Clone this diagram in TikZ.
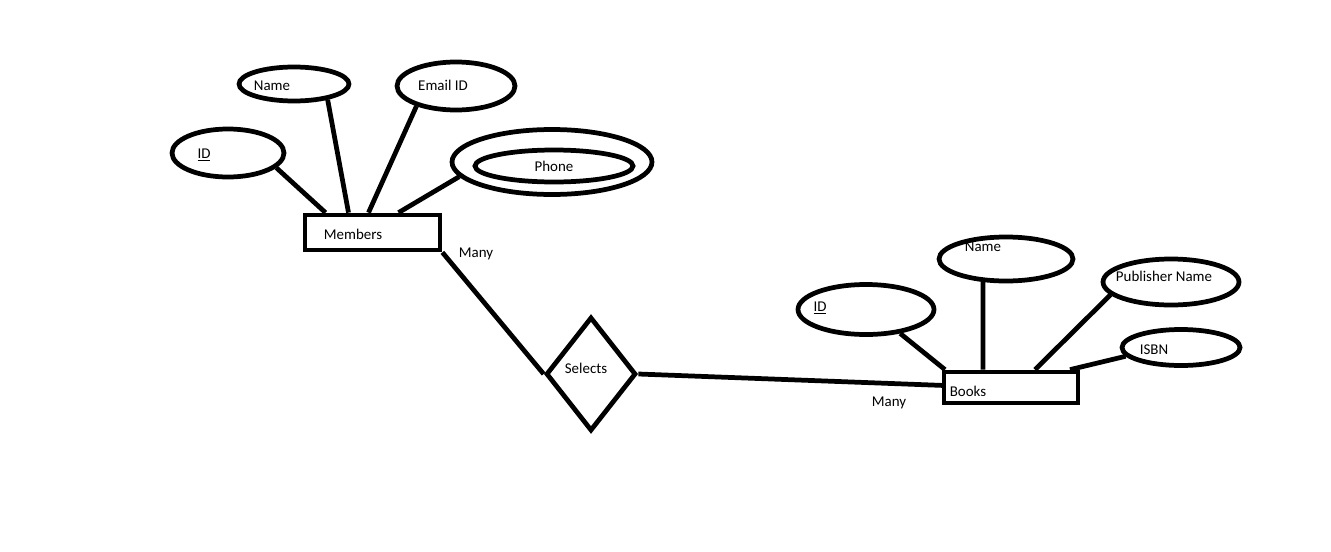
\documentclass[tikz,border=0pt]{standalone}
\usepackage{fontspec}
\setmainfont{Carlito}
\usetikzlibrary{shapes.geometric,calc}

\begin{document}
\begin{tikzpicture}[x=0.02cm,y=-0.02cm,line width=2.7pt,
  font=\fontsize{8.5}{10}\selectfont,
  attr/.style={ellipse,draw,inner sep=0pt},
  entity/.style={rectangle,draw,inner sep=0pt},
  rel/.style={diamond,draw,inner sep=0pt}]
\useasboundingbox (0,0) rectangle (1331,551);

% members side
\node [entity,minimum width=2.7cm,minimum height=0.7cm,label={[xshift=-0.39cm,yshift=-0.03cm]center:Members}] (members) at (372.5,232.5) {};
\node [attr,minimum width=2.24cm,minimum height=0.96cm,label={[xshift=-0.48cm,yshift=-0.04cm]center:\underline{ID}}] (mid) at (228,153) {};
\node [attr,minimum width=2.2cm,minimum height=0.68cm,label={[xshift=-0.44cm,yshift=-0.04cm]center:Name}] (mname) at (294,84) {};
\node [attr,minimum width=2.36cm,minimum height=0.96cm,label={[xshift=-0.26cm,yshift=0.02cm]center:Email ID}] (memail) at (456,86) {};
\node [attr,minimum width=4.0cm,minimum height=1.3cm] (phone) at (552,162) {};
\node [attr,minimum width=3.16cm,minimum height=0.64cm,label={center:Phone}] (phonein) at (554,166) {};

\draw (mid.-17) -- ($(members.north)+(-47,0)$);
\draw (mname.-25) -- ($(members.north)+(-24,0)$);
\draw (memail.-153) -- ($(members.north)+(-4,0)$);
\draw (phone.-171) -- ($(members.north)+(26,0)$);

% relationship
\node [rel,minimum width=1.8cm,minimum height=2.28cm,label={[xshift=-0.1cm,yshift=0.12cm]center:Selects}] (selects) at (591,374) {};
\node (many1) at (476,254) {Many};
\draw (members.south east) -- (selects.west);

% books side
\node [entity,minimum width=2.68cm,minimum height=0.62cm,label={[xshift=-0.86cm,yshift=-0.07cm]center:Books}] (books) at (1011,387.5) {};
\node [attr,minimum width=2.72cm,minimum height=1.0cm,label={[xshift=-0.92cm,yshift=0.03cm]center:\underline{ID}}] (bid) at (866,309.5) {};
\node [attr,minimum width=2.68cm,minimum height=0.88cm,label={[xshift=-0.46cm,yshift=0.24cm]center:Name}] (bname) at (1006,259) {};
\node [attr,minimum width=2.72cm,minimum height=0.92cm,label={[xshift=-0.14cm,yshift=0.12cm]center:Publisher Name}] (bpub) at (1171,282) {};
\node [attr,minimum width=2.36cm,minimum height=0.72cm,label={[xshift=-0.54cm,yshift=-0.05cm]center:ISBN}] (isbn) at (1181,347.5) {};
\node (many2) at (889,403) {Many};
\draw (selects.east) -- ($(books.west)+(3,-2)$);

\draw (bid.-35) -- ($(books.north)+(-66,0)$);
\draw (bname.-135) -- ($(books.north)+(-28,0)$);
\draw (bpub.-168) -- ($(books.north)+(24,0)$);
\draw (isbn.-171) -- ($(books.north)+(59,0)$);
\end{tikzpicture}
\end{document}
